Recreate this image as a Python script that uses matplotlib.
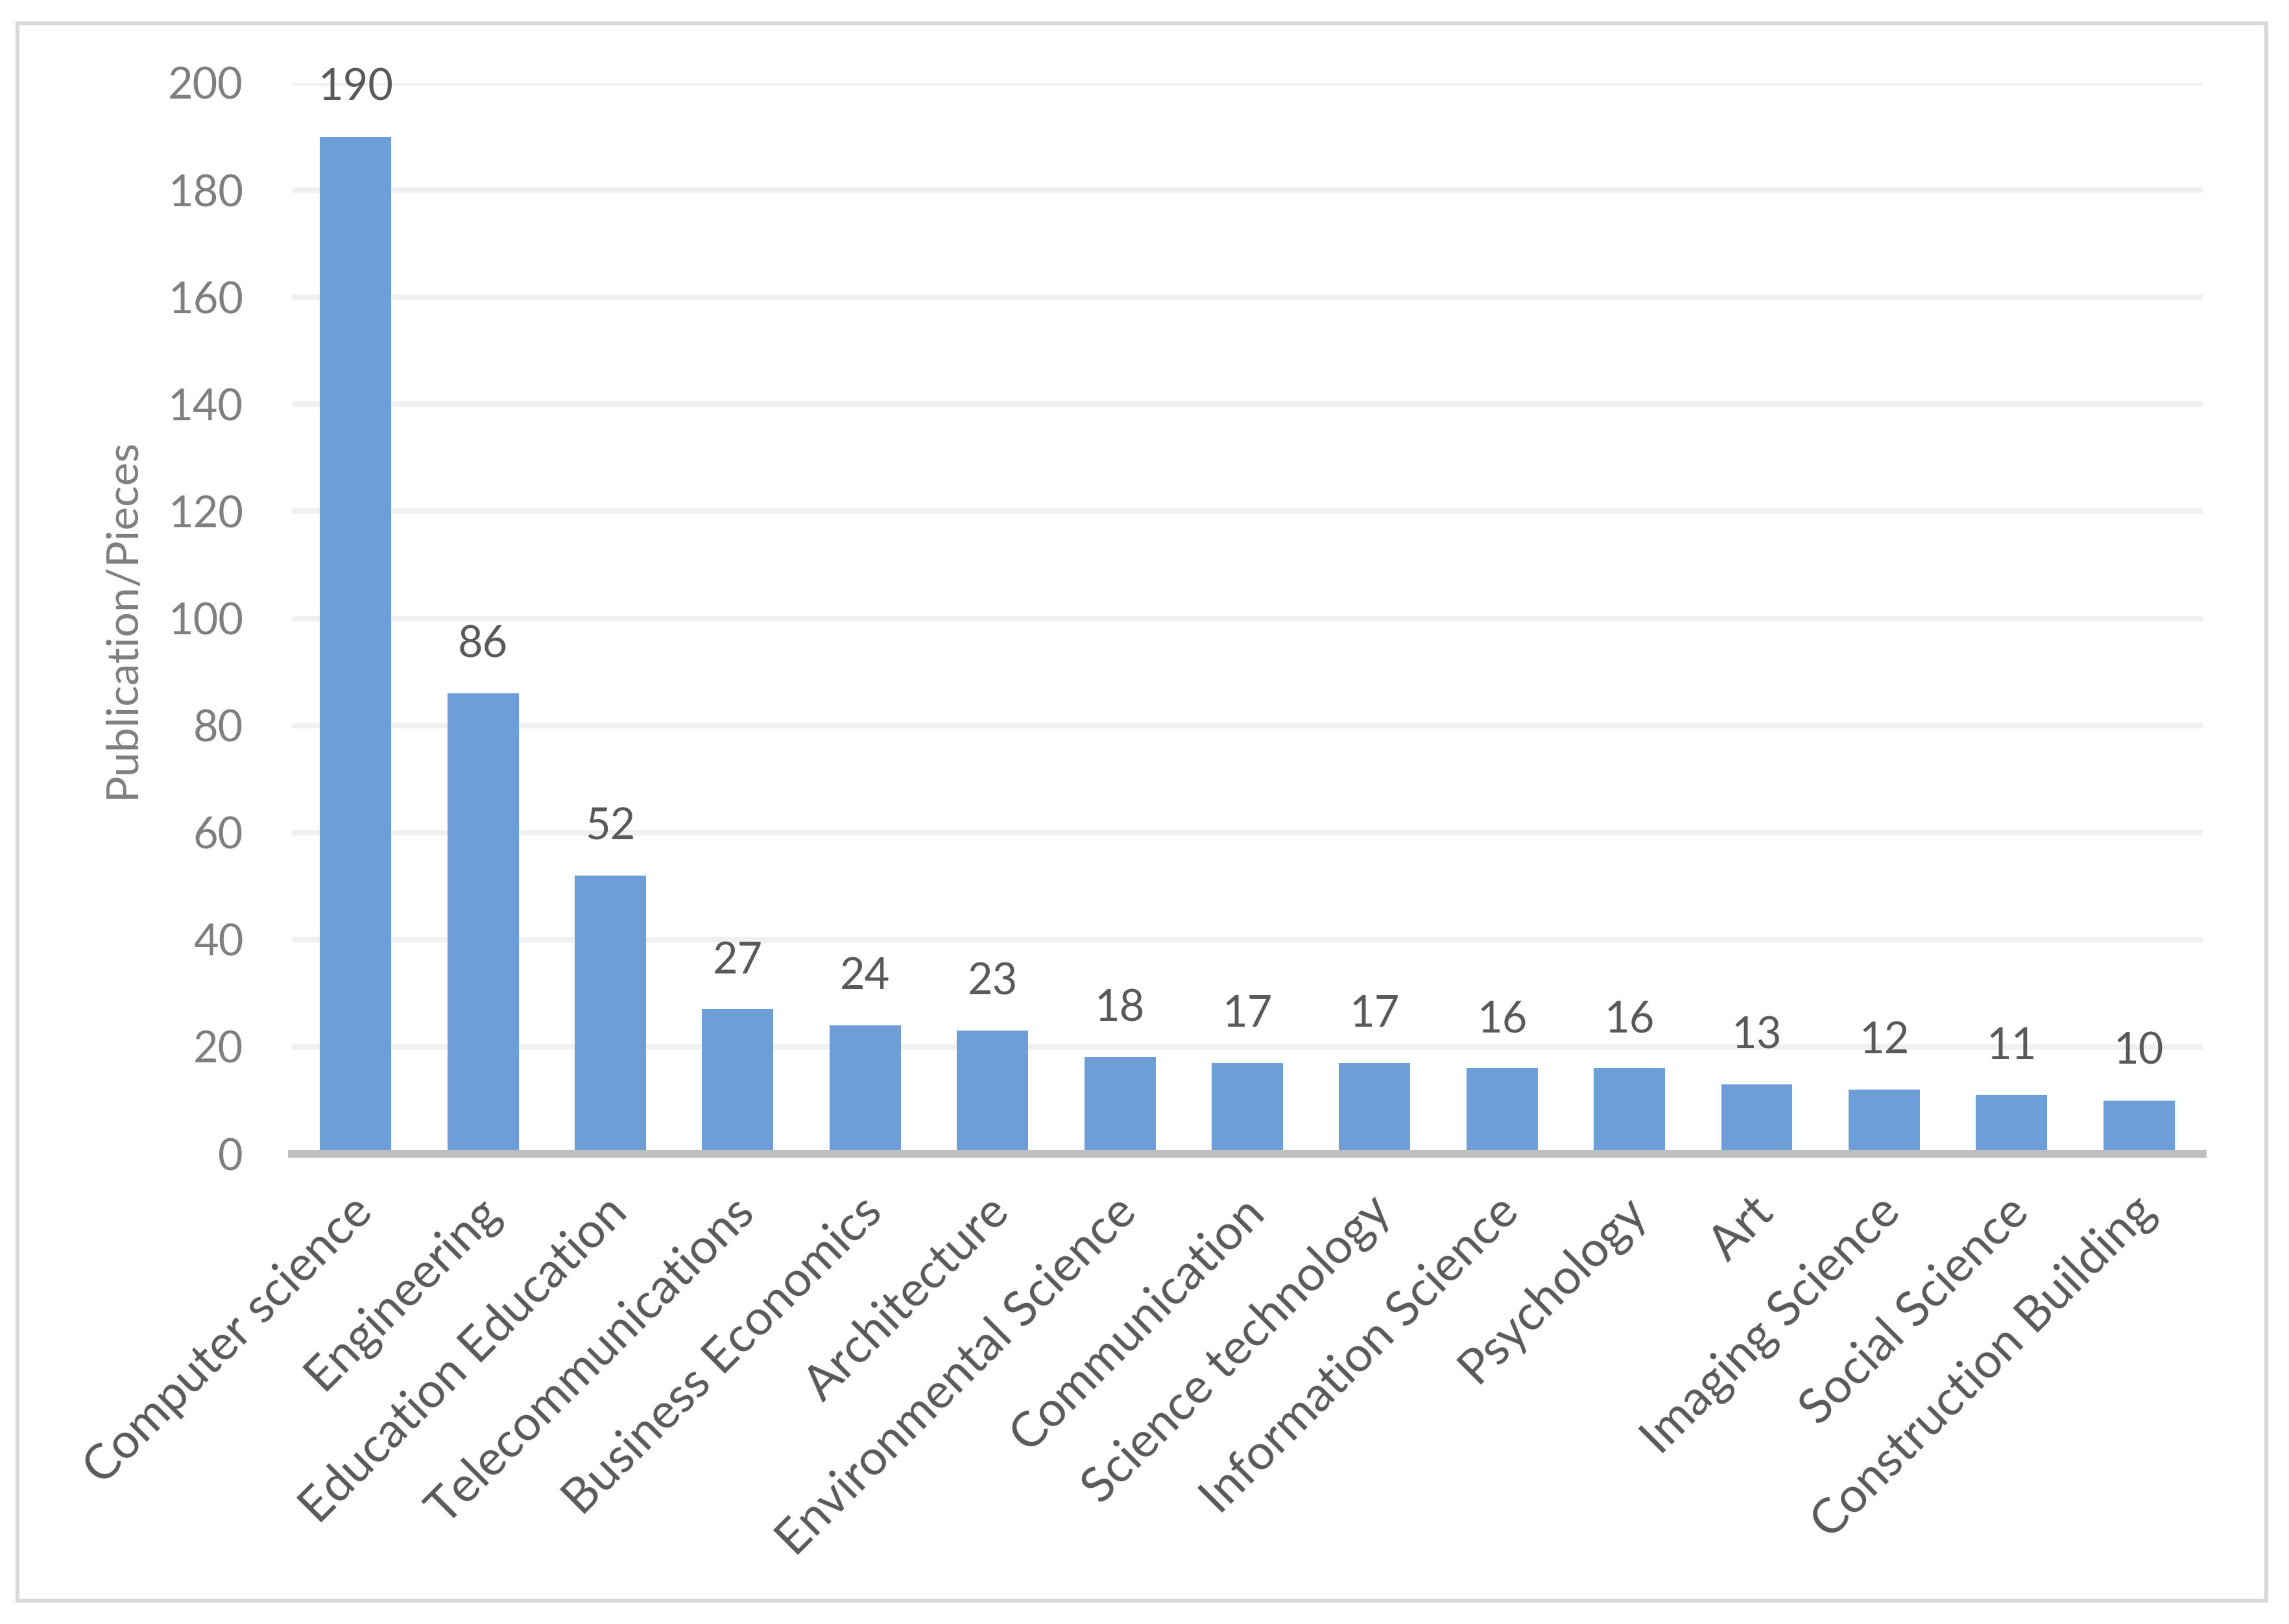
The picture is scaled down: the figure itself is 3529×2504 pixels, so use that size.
import matplotlib.pyplot as plt
from matplotlib.patches import Rectangle
from matplotlib.transforms import ScaledTranslation

categories = ["Computer science", "Engineering", "Education Education", "Telecommunications",
              "Business Economics", "Architecture", "Environmental Science", "Communication",
              "Science technology", "Information Science", "Psychology", "Art",
              "Imaging Science", "Social Science", "Construction Building"]
values = [190, 86, 52, 27, 24, 23, 18, 17, 17, 16, 16, 13, 12, 11, 10]
y_ticks = [0, 20, 40, 60, 80, 100, 120, 140, 160, 180, 200]

plt.rcParams['font.family'] = ['Lato', 'DejaVu Sans']

fig = plt.figure(figsize=(17.65, 12.52), dpi=200)
ax = fig.add_axes([0.1275, 0.2895, 0.8345, 0.6594])

x = list(range(len(categories)))
ax.bar(x, values, width=0.56, color='#6D9ED7', zorder=2)
for xi, v in zip(x, values):
    ax.annotate(str(v), (xi, v), xytext=(0, 20), textcoords='offset points',
                ha='center', va='baseline', fontsize=24, color='#595959')

ax.set_xlim(-0.5, len(categories) - 0.5)
ax.set_ylim(0, 200)
ax.set_yticks(y_ticks)
ax.set_xticks(x)
ax.set_xticklabels(categories, rotation=45, ha='right', va='center',
                   rotation_mode='anchor', fontsize=27, color='#595959')
ax.tick_params(axis='x', length=0, pad=24)
ax.tick_params(axis='y', length=0, pad=27, labelsize=24, labelcolor='#7F7F7F')
# nudge the slanted labels a little right/down
shift = ScaledTranslation(5 / 72, -4 / 72, fig.dpi_scale_trans)
for lbl in ax.get_xticklabels():
    lbl.set_transform(lbl.get_transform() + shift)
ax.grid(axis='y', color='#F0F0F0', linewidth=3, zorder=0)
for s in ['top', 'right', 'left']:
    ax.spines[s].set_visible(False)
ax.spines['bottom'].set_color('#BFBFBF')
ax.spines['bottom'].set_linewidth(4.3)
ax.spines['bottom'].set_zorder(3)
ax.set_ylabel("Publication/Pieces", fontsize=24.5, color='#7F7F7F', labelpad=14)

# outer chart border
fig.patches.append(Rectangle((0.0077, 0.0144), 0.982, 0.9712, transform=fig.transFigure,
                             fill=False, edgecolor='#D9D9D9', linewidth=2.2))

fig.savefig('out.png', dpi=200, facecolor='white')
